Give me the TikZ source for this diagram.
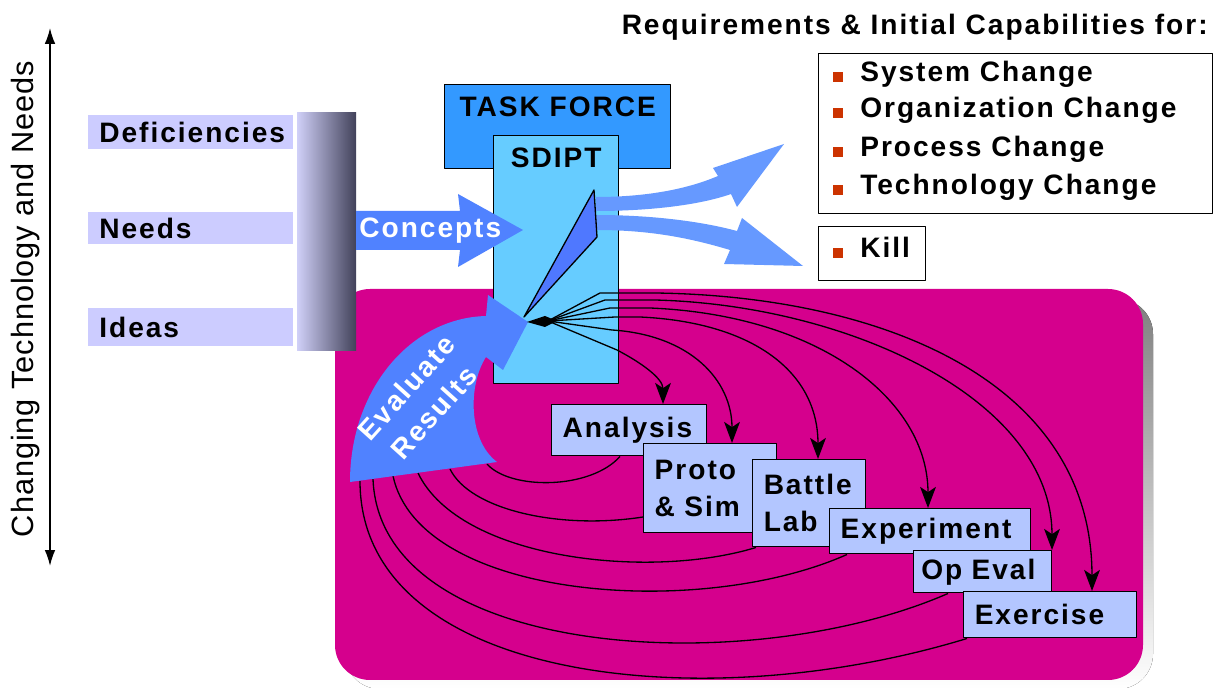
\documentclass[tikz,border=0pt]{standalone}
\usepackage{fontspec}
\usepackage{xcolor}
\usetikzlibrary{arrows.meta}

\newfontfamily\hv[LetterSpace=7]{Liberation Sans}
\newfontfamily\hvthin[LetterSpace=3]{Liberation Sans}
\newcommand{\lblfont}{\hv\bfseries\fontsize{16}{21}\selectfont}
\newcommand{\bul}{{\color{bullet}\rule{0.2cm}{0.2cm}}\hspace{0.34cm}}

\definecolor{lav}{HTML}{CCCCFF}
\definecolor{barL}{HTML}{D0D0F8}
\definecolor{barM}{HTML}{9A9AB8}
\definecolor{barR}{HTML}{42425A}
\definecolor{mag}{HTML}{D5008D}
\definecolor{shade}{HTML}{B4B4B4}
\definecolor{tfblue}{HTML}{3399FF}
\definecolor{sdipt}{HTML}{66CCFF}
\definecolor{arrblue}{HTML}{5082FF}
\definecolor{outblue}{HTML}{6699FF}
\definecolor{prism}{HTML}{4F78FF}
\definecolor{taskc}{HTML}{B3C6FF}
\definecolor{bullet}{HTML}{CC3300}

\tikzset{
	lbl/.style={font=\lblfont, inner sep=0pt},
	bar/.style={lbl, fill=lav, anchor=west, text width=3.66cm, inner xsep=0.22cm, align=left},
	item/.style={lbl, anchor=base west},
	task/.style={lbl, draw, fill=taskc, line width=0.85pt, anchor=north west, inner xsep=0.22cm, align=left},
	frame/.style={draw, fill=white, line width=0.85pt, anchor=north west, inner sep=0pt},
	loop/.style={line width=0.75pt, -{Stealth[length=12pt,width=9pt,inset=3pt]}},
	back/.style={line width=0.75pt},
}

\begin{document}
\begin{tikzpicture}[x=0.02cm, y=-0.02cm, line join=round]
	\useasboundingbox (0,0) rectangle (1215,688);

	% axis on the left
	\coordinate (axtop) at (50,28);
	\coordinate (axbot) at (50,566);
	\draw [line width=0.9pt, {Latex[length=9pt,width=6pt]}-{Latex[length=9pt,width=6pt]}] (axtop) -- (axbot);
	\node [rotate=90, inner sep=0pt, font=\hvthin\fontsize{17.5}{20}\selectfont] (axis) at (26,299) {Changing Technology and Needs};

	\node [bar, minimum height=0.68cm] (defi) at (88,132) {Deficiencies};
	\node [bar, minimum height=0.64cm] (needs) at (88,228) {Needs};
	\node [bar, minimum height=0.76cm] (ideas) at (88,327) {Ideas};

	% magenta field
	\fill [shade, rounded corners=0.7cm] (345,299) rectangle (1153,689);
	\fill [mag, rounded corners=0.7cm] (335,289) rectangle (1143,680);
	\shade [left color=barL, middle color=barM, right color=barR] (297,113) rectangle (356,351);

	% task force
	\node [draw, fill=tfblue, line width=0.85pt, anchor=north west, minimum width=4.52cm, minimum height=1.68cm] (tf) at (444,84) {};
	\node [lbl] at ([yshift=-0.46cm]tf.north) {TASK FORCE};
	\node [draw, fill=sdipt, line width=0.85pt, anchor=north west, minimum width=2.5cm, minimum height=4.96cm] (sdipt) at (493,135) {};
	\node [lbl] at ([yshift=-0.46cm]sdipt.north) {SDIPT};

	% concepts
	\fill [arrblue] (356,211) -- (460,211) -- (458,194) -- (523,230) -- (458,267) -- (460,250) -- (356,250) -- cycle;
	\node [lbl, anchor=base west, white] (concepts) at (359,238) {Concepts};

	\fill [outblue] (596,197) .. controls (650,197) and (690,188) .. (718,176) -- (713,168) -- (784,144) -- (737,207) -- (731,194) .. controls (700,205) and (650,211) .. (596,211) -- cycle;
	\fill [outblue] (596,215) .. controls (650,215) and (700,221) .. (737,231) -- (742,218) -- (803,266) -- (724,264) -- (730,250) .. controls (690,238) and (650,230) .. (596,230) -- cycle;
	\filldraw [fill=prism, line width=0.75pt] (594,190) -- (597,237) -- (524,317) -- cycle;

	% requirements
	\node [lbl, anchor=base east] (req) at (1208,35) {Requirements \& Initial Capabilities for:};
	\node [frame, minimum width=7.88cm, minimum height=3.2cm] (chg) at (818,53) {};
	\node [item] (sys) at (833,82) {\bul System Change};
	\node [item] (org) at (833,118) {\bul Organization Change};
	\node [item] (proc) at (833,157) {\bul Process Change};
	\node [item] (tech) at (833,195) {\bul Technology Change};
	\node [frame, minimum width=2.14cm, minimum height=1.08cm] (killbox) at (818,226) {};
	\node [item] (kill) at (833,258) {\bul Kill};

	% boxes
	\node [task, text width=2.66cm, minimum height=1.02cm] (ana) at (551,404) {Analysis};
	\node [task, text width=2.22cm, minimum height=1.78cm] (proto) at (643,443) {Proto\\\& Sim};
	\node [task, text width=1.82cm, minimum height=1.74cm] (battle) at (752,459) {Battle\\Lab};
	\node [task, text width=3.58cm, minimum height=0.9cm] (expt) at (829,508) {Experiment};
	\node [task, minimum height=0.84cm, inner xsep=0.15cm, text width=2.46cm] (opeval) at (913,550) {Op Eval};
	\node [task, text width=3.02cm, minimum height=0.92cm] (exer) at (963,591) {Exercise};

	% results back to the evaluate arrow
	\coordinate (r1) at (360,481);
	\coordinate (r2) at (373,479);
	\coordinate (r3) at (393,476);
	\coordinate (r4) at (418,473);
	\coordinate (r5) at (450,469);
	\coordinate (r6) at (487,464);
	\draw [back] (620,0 |- ana.south) .. controls (590,490) and (510,490) .. (r6);
	\draw [back] (proto.west |- 0,517) .. controls (560,530) and (470,510) .. (r5);
	\draw [back] (756,0 |- battle.south) .. controls (650,580) and (460,560) .. (r4);
	\draw [back] (847,0 |- expt.south) .. controls (700,620) and (420,600) .. (r3);
	\draw [back] (948,0 |- opeval.south) .. controls (750,680) and (380,660) .. (r2);
	\draw [back] (967,0 |- exer.south) .. controls (700,720) and (360,680) .. (r1);

	% evaluate results
	\fill [arrblue] (350,482) .. controls (350,390) and (410,318) .. (486,316) -- (488,295) -- (528,322) -- (503,370) -- (486,357) .. controls (468,385) and (468,440) .. (497,462) -- cycle;
	\node [lbl, white, rotate=48, align=center] (evalres) at (420,400) {Evaluate\\Results};

	% fan out to the boxes
	\coordinate (hub) at (548,321);
	\draw [loop] (hub) -- (600,293) -- (655,293) .. controls (880,296) and (1092,380) .. (1092,0 |- exer.north);
	\draw [loop] (hub) -- (605,300) -- (655,300) .. controls (850,305) and (1052,400) .. (1052,0 |- opeval.north);
	\draw [loop] (hub) -- (610,308) -- (650,308) .. controls (820,315) and (928,400) .. (928,0 |- expt.north);
	\draw [loop] (hub) -- (615,317) -- (640,317) .. controls (750,322) and (818,370) .. (818,0 |- battle.north);
	\draw [loop] (hub) -- (612,330) .. controls (690,335) and (732,380) .. (732,0 |- proto.north);
	\draw [loop] (hub) -- (617,350) .. controls (640,362) and (663,378) .. (663,0 |- ana.north);
	\fill (527,322) -- (545,316) -- (557,321) -- (545,327) -- cycle;
\end{tikzpicture}
\end{document}
